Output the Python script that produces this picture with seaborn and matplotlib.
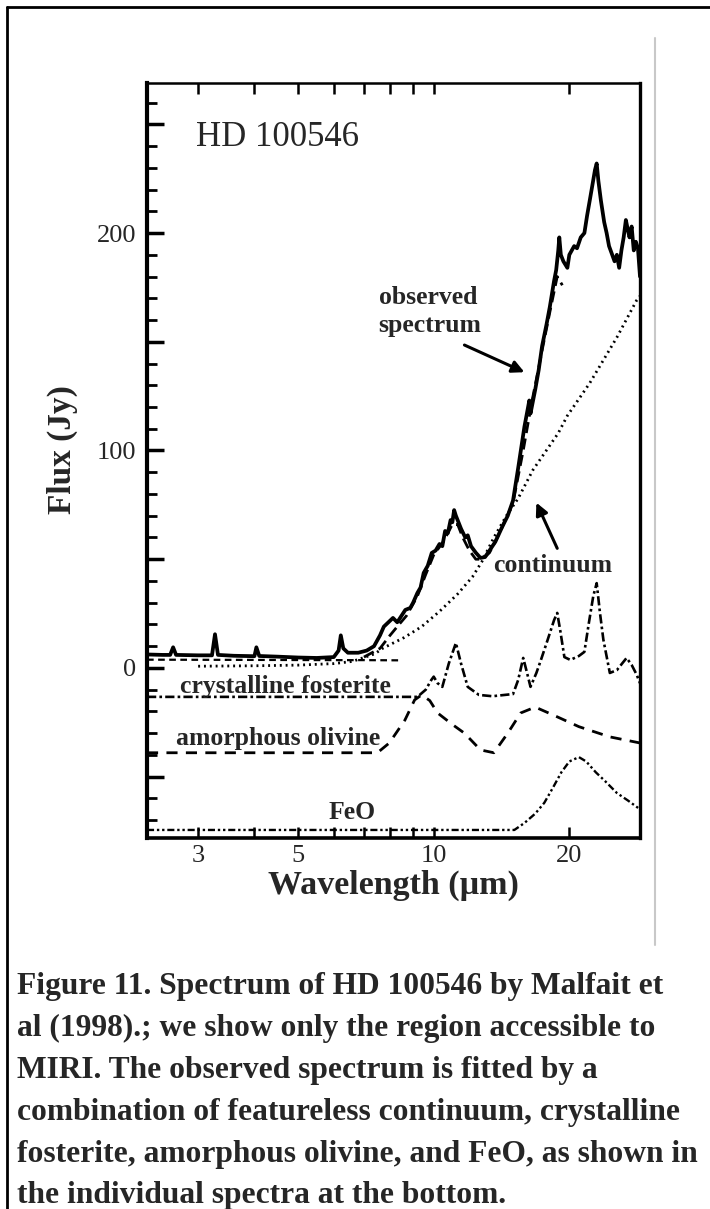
import numpy as np
import pandas as pd
import seaborn as sns
import matplotlib
matplotlib.use("Agg")
import matplotlib.pyplot as plt
from matplotlib.lines import Line2D
from matplotlib.ticker import MultipleLocator, FuncFormatter, NullFormatter

# ---------------- data ----------------
obs_lam = [2.31, 2.5, 2.6, 2.64, 2.68, 3.0, 3.22, 3.27, 3.32, 3.6, 4.0, 4.04, 4.1, 4.5, 5.0, 5.5,
           6.0, 6.15, 6.22, 6.3, 6.45, 6.8, 7.1, 7.37, 7.6, 7.75, 8.12, 8.3, 8.65, 8.87, 9.0, 9.2,
           9.35, 9.5, 9.7, 9.9, 10.1, 10.3, 10.45, 10.6, 10.75, 10.9, 11.0, 11.1, 11.2, 11.3, 11.5,
           11.75, 11.9, 12.1, 12.4, 12.7, 13.0, 13.3, 13.7, 14.2, 14.6, 15.0, 15.4, 15.9, 16.2, 16.3,
           16.4, 16.8, 17.1, 17.4, 17.8, 18.1, 18.5, 18.7, 18.9, 19.0, 19.15, 19.4, 19.8, 20.0, 20.5,
           20.8, 21.2, 21.6, 21.9, 22.2, 22.5, 22.8, 23.0, 23.2, 23.5, 23.9, 24.2, 24.5, 24.9, 25.2,
           25.5, 25.8, 26.1, 26.4, 26.7, 27.0, 27.2, 27.5, 27.8, 28.1, 28.4, 28.7]
obs_flux = [6.2, 6.0, 6.0, 9.5, 6.0, 5.8, 5.8, 15.5, 6.0, 5.6, 5.4, 9.5, 5.5, 5.2, 4.8, 4.6,
            5.0, 8.0, 15.0, 9.0, 7.0, 7.0, 8.0, 10.0, 15.0, 19.0, 23.0, 21.0, 26.7, 27.6, 30.0, 34.5,
            37.0, 43.7, 47.0, 52.9, 54.0, 57.0, 56.0, 63.0, 62.0, 68.0, 67.0, 72.6, 70.0, 68.0, 64.0,
            60.0, 61.0, 56.0, 53.0, 50.6, 51.0, 54.0, 58.0, 65.0, 70.0, 77.0, 92.0, 111.0, 120.0, 123.0,
            117.0, 128.0, 137.0, 148.0, 158.0, 166.0, 178.0, 183.0, 192.0, 198.0, 190.0, 187.0, 184.0, 190.0, 194.0,
            193.0, 198.0, 200.0, 208.0, 215.0, 222.0, 229.0, 232.0, 224.0, 215.0, 205.0, 200.0, 194.0, 190.0, 187.0,
            190.0, 184.0, 192.0, 198.0, 206.0, 201.0, 198.0, 203.0, 192.0, 196.0, 193.0, 180.0]

fit_lam = [7.0, 7.6, 8.0, 8.3, 8.7, 9.2, 9.6, 10.0, 10.5, 11.0, 11.3, 11.6, 12.0, 12.4, 12.8,
           13.3, 14.0, 15.0, 15.8, 16.5, 17.4, 18.2, 18.8, 19.3]
fit_flux = [5.0, 9.0, 15.0, 19.0, 24.0, 33.0, 43.0, 52.0, 58.0, 66.0, 66.0, 60.0, 54.0, 50.0, 50.0,
            53.0, 62.0, 76.0, 100.0, 122.0, 146.0, 166.0, 180.0, 176.0]

base_lam = [2.31, 4.0, 6.0, 7.0, 8.4]
base_flux = [3.8, 3.7, 3.6, 3.6, 3.5]

cont_lam = [3.0, 4.0, 5.0, 6.0, 6.6, 7.4, 7.7, 8.6, 9.4, 10.3, 11.3, 12.2, 12.8, 13.6, 14.5,
            15.4, 16.6, 18.9, 19.8, 22.2, 25.5, 28.2, 28.7]
cont_flux = [0.8, 1.0, 1.3, 2.0, 3.0, 6.5, 9.0, 14.0, 19.0, 26.0, 34.0, 42.0, 49.0, 60.0, 70.0,
             78.0, 91.0, 108.0, 116.0, 131.0, 152.0, 169.0, 171.0]

fost_lam = [2.31, 9.2, 9.6, 9.88, 10.0, 10.2, 10.45, 10.8, 11.2, 11.5, 11.9, 12.6, 13.5, 15.0,
            15.4, 15.8, 16.1, 16.4, 16.9, 17.3, 17.9, 18.5, 18.8, 19.1, 19.5, 20.1, 21.0, 21.6,
            22.1, 22.6, 23.0, 23.4, 23.8, 24.6, 25.5, 26.3, 26.8, 27.5, 28.2, 28.7]
fost_flux = [-13.3, -13.3, -10.0, -5.5, -4.0, -7.0, -8.7, 2.0, 11.5, 2.0, -8.7, -12.4, -13.0, -12.0,
             -5.5, 4.6, -2.0, -8.7, -2.3, 3.7, 12.9, 22.0, 25.3, 17.0, 5.0, 3.7, 5.5, 7.4,
             20.7, 33.0, 39.0, 25.0, 13.0, -2.3, -1.0, 2.5, 4.6, 1.4, -3.0, -7.0]

oliv_lam = [2.31, 7.5, 7.97, 8.63, 9.07, 9.4, 9.8, 10.2, 11.0, 11.7, 12.7, 13.6, 14.6, 15.6,
            16.8, 18.4, 21.0, 24.6, 28.7]
oliv_flux = [-39.0, -39.0, -34.5, -24.0, -14.7, -12.4, -15.0, -20.7, -26.0, -30.0, -37.7, -39.0,
             -30.0, -20.7, -18.0, -21.6, -27.0, -31.7, -34.5]

feo_lam = [2.31, 15.1, 15.9, 16.8, 17.6, 18.4, 19.2, 20.0, 21.0, 21.8, 22.9, 24.0, 25.5, 27.0, 28.7]
feo_flux = [-74.5, -74.5, -71.3, -67.0, -62.0, -55.0, -48.0, -43.0, -41.0, -43.0, -48.0, -52.0,
            -57.5, -61.0, -65.0]

x_ticks = [3, 5, 10, 20]
x_minor = [4, 6, 7, 8, 9]
y_labels = [0, 100, 200]

caption_lines = [
    "Figure 11. Spectrum of HD 100546 by Malfait et",
    "al (1998).; we show only the region accessible to",
    "MIRI. The observed spectrum is fitted by a",
    "combination of featureless continuum, crystalline",
    "fosterite, amorphous olivine, and FeO, as shown in",
    "the individual spectra at the bottom.",
]

# ---------------- figure ----------------
sns.set_style("ticks")
plt.rcParams['font.family'] = ['Liberation Serif', 'DejaVu Serif']

W, H = 710, 1209
fig = plt.figure(figsize=(W / 100, H / 100), dpi=100)
ax = fig.add_axes([147 / W, 1 - 838 / H, (640 - 147) / W, (838 - 83) / H])

def draw(lam, val, **kw):
    df = pd.DataFrame({"lam": lam, "val": val})
    sns.lineplot(data=df, x="lam", y="val", ax=ax, estimator=None, sort=False,
                 color="black", legend=False, **kw)

draw(cont_lam, cont_flux, lw=2.0, dashes=(0.7, 1.4))
draw(base_lam, base_flux, lw=1.6, dashes=(3, 2))
draw(fit_lam, fit_flux, lw=2.0, dashes=(4, 2))
draw(obs_lam, obs_flux, lw=2.7)
draw(fost_lam, fost_flux, lw=1.9, dashes=(3.5, 1.2, 1, 1.2))
draw(oliv_lam, oliv_flux, lw=2.0, dashes=(4, 3))
draw(feo_lam, feo_flux, lw=1.7, dashes=(3, 1.2, 1, 1.2, 1, 1.2))

ax.set_xscale("log")
ax.set_xlim(2.31, 28.7)
ax.set_ylim(-78.2, 269)

ax.set_xticks(x_ticks)
ax.set_xticklabels([str(t) for t in x_ticks])
ax.set_xticks(x_minor, minor=True)
ax.xaxis.set_minor_formatter(NullFormatter())
ax.yaxis.set_major_locator(MultipleLocator(50))
ax.yaxis.set_minor_locator(MultipleLocator(10))
ax.yaxis.set_major_formatter(FuncFormatter(lambda v, p: f"{int(round(v))}" if int(round(v)) in y_labels else ""))

ax.tick_params(which="both", direction="in", top=True, right=False, labelsize=19, pad=8, color="black")
ax.tick_params(which="major", length=12, width=2.5)
ax.tick_params(which="minor", length=7, width=2.0)
ax.tick_params(axis="x", which="both", length=8, width=1.8)
ax.tick_params(axis="x", which="major", pad=5)

for side, lw in [("left", 3.0), ("bottom", 2.6), ("right", 2.4), ("top", 1.8)]:
    ax.spines[side].set_linewidth(lw)
    ax.spines[side].set_color("black")
    ax.spines[side].set_visible(True)

ax.set_xlabel("Wavelength (µm)", fontsize=24.5, fontweight="bold", labelpad=2)
ax.set_ylabel("Flux (Jy)", fontsize=24, fontweight="bold")
ax.yaxis.set_label_coords(-0.14, 0.514)

ax.text(2.97, 240, "HD 100546", fontsize=25, ha="left", va="baseline")
ax.text(7.55, 164, "observed\nspectrum", fontsize=18.5, fontweight="bold", ha="left", va="center",
        linespacing=1.25)
ax.text(18.4, 47, "continuum", fontsize=18.5, fontweight="bold", ha="center", va="center")
ax.text(4.69, -8.7, "crystalline fosterite", fontsize=18.5, fontweight="bold", ha="center", va="center")
ax.text(4.52, -32.6, "amorphous olivine", fontsize=18.5, fontweight="bold", ha="center", va="center")
ax.text(6.59, -66.7, "FeO", fontsize=18.5, fontweight="bold", ha="center", va="center")

arrow = dict(arrowstyle="-|>", lw=2.2, color="black", mutation_scale=18, shrinkA=0, shrinkB=0)
ax.annotate("", xy=(15.9, 136), xytext=(11.7, 148.5), arrowprops=arrow)
ax.annotate("", xy=(16.9, 76), xytext=(18.8, 55), arrowprops=arrow)

# page artefacts: frame and faint scan line
fig.add_artist(Line2D([7 / W, 1], [1 - 7 / H, 1 - 7 / H], color="black", lw=2))
fig.add_artist(Line2D([7 / W, 7 / W], [0, 1 - 7 / H], color="black", lw=2))
fig.add_artist(Line2D([655 / W, 655 / W], [1 - 38 / H, 1 - 945 / H], color="#c8c8c8", lw=1.5))

baselines = [994, 1036, 1078, 1120, 1162, 1203]
for line, b in zip(caption_lines, baselines):
    fig.text(17 / W, 1 - b / H, line, fontsize=22.7, fontweight="bold", ha="left", va="baseline")

fig.savefig("out.png", dpi=100)
